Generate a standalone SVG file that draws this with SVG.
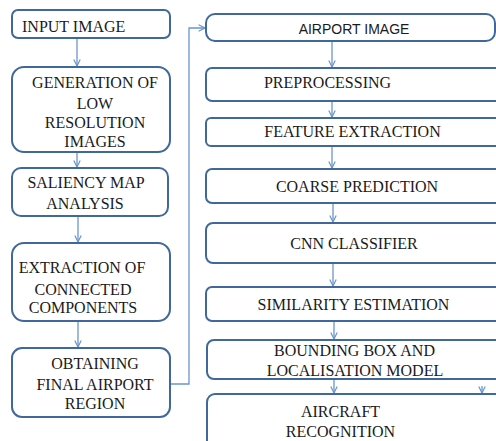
<svg xmlns="http://www.w3.org/2000/svg" width="496" height="441" viewBox="0 0 496 441">
<defs>
<style>
.box{fill:#fff;stroke:#41689b;stroke-width:2}
.t{font-size:16px;fill:#1a1a1a;text-anchor:middle}
.s{font-size:14px;fill:#1a1a1a;text-anchor:middle}
.c{fill:none;stroke:#6a95cc;stroke-width:1.3}
</style>
<marker id="ah" viewBox="0 0 10 10" refX="9" refY="5" markerWidth="8" markerHeight="8" orient="auto" markerUnits="userSpaceOnUse">
<path d="M1,1 L9,5 L1,9" fill="none" stroke="#6a95cc" stroke-width="1.5"/>
</marker>
</defs>
<rect width="496" height="441" fill="#fff"/>
<g id="connectors">
<line class="c" x1="77" y1="39" x2="77" y2="66" marker-end="url(#ah)"/>
<line class="c" x1="77" y1="153" x2="77" y2="167" marker-end="url(#ah)"/>
<line class="c" x1="78" y1="217" x2="78" y2="242" marker-end="url(#ah)"/>
<line class="c" x1="78" y1="322" x2="78" y2="347" marker-end="url(#ah)"/>
<polyline class="c" points="171,384 189,384 189,28 205,28" marker-end="url(#ah)"/>
<line class="c" x1="332" y1="42" x2="332" y2="67" marker-end="url(#ah)"/>
<line class="c" x1="332" y1="102" x2="332" y2="117" marker-end="url(#ah)"/>
<line class="c" x1="332" y1="147" x2="332" y2="168" marker-end="url(#ah)"/>
<line class="c" x1="333" y1="204" x2="333" y2="222" marker-end="url(#ah)"/>
<line class="c" x1="333" y1="264" x2="333" y2="286" marker-end="url(#ah)"/>
<line class="c" x1="334" y1="322" x2="334" y2="339" marker-end="url(#ah)"/>
<line class="c" x1="334" y1="380" x2="334" y2="393" marker-end="url(#ah)"/>
<line class="c" x1="482" y1="386" x2="482" y2="393" marker-end="url(#ah)"/>
</g>
<g font-family="Liberation Serif">
<g id="n1"><rect class="box" x="12" y="10" width="158" height="28" rx="6"/><text class="t" x="22" y="31.5" text-anchor="start" style="text-anchor:start">INPUT IMAGE</text></g>
<g id="n2"><rect class="box" x="12" y="67" width="158" height="85" rx="12"/>
<text class="t" x="95" y="88">GENERATION OF</text><text class="t" x="95" y="109">LOW</text><text class="t" x="95" y="128">RESOLUTION</text><text class="t" x="95" y="146.5">IMAGES</text></g>
<g id="n3"><rect class="box" x="12" y="168" width="156" height="48" rx="9"/>
<text class="t" x="86" y="188">SALIENCY MAP</text><text class="t" x="85" y="209">ANALYSIS</text></g>
<g id="n4"><rect class="box" x="12" y="243" width="158" height="78" rx="12"/>
<text class="t" x="82" y="273">EXTRACTION OF</text><text class="t" x="83" y="295">CONNECTED</text><text class="t" x="83" y="313">COMPONENTS</text></g>
<g id="n5"><rect class="box" x="12" y="348" width="158" height="69" rx="10"/>
<text class="t" x="95" y="369">OBTAINING</text><text class="t" x="95" y="390">FINAL AIRPORT</text><text class="t" x="95" y="409">REGION</text></g>
<g id="r1"><rect class="box" x="206" y="14" width="289" height="27" rx="9"/><text class="s" x="354" y="34" font-family="Liberation Sans">AIRPORT IMAGE</text></g>
<g id="r2"><rect class="box" x="206" y="68" width="300" height="33" rx="6"/><text class="t" x="327.5" y="87.5">PREPROCESSING</text></g>
<g id="r3"><rect class="box" x="206" y="118" width="300" height="28" rx="5"/><text class="t" x="352.5" y="137">FEATURE EXTRACTION</text></g>
<g id="r4"><rect class="box" x="206" y="169" width="300" height="34" rx="6"/><text class="t" x="357" y="191.5">COARSE PREDICTION</text></g>
<g id="r5"><rect class="box" x="206" y="223" width="300" height="40" rx="7"/><text class="t" x="354" y="249">CNN CLASSIFIER</text></g>
<g id="r6"><rect class="box" x="206" y="287" width="300" height="34" rx="6"/><text class="t" x="353.5" y="310">SIMILARITY ESTIMATION</text></g>
<g id="r7"><rect class="box" x="207" y="340" width="300" height="39" rx="7"/>
<text class="t" x="354.5" y="356">BOUNDING BOX AND</text><text class="t" x="355" y="376">LOCALISATION MODEL</text></g>
<g id="r8"><rect class="box" x="207" y="394" width="300" height="60" rx="8"/>
<text class="t" x="340.5" y="416.5">AIRCRAFT</text><text class="t" x="340.5" y="437">RECOGNITION</text></g>
</g>
</svg>
